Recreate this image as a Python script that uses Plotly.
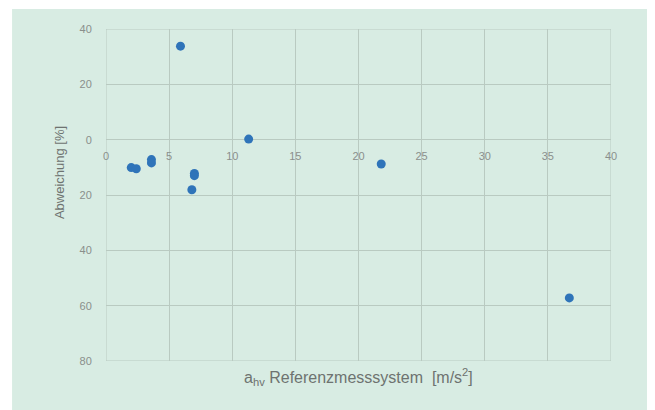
import plotly.graph_objects as go

x_vals = [5.9, 11.3, 2.0, 2.4, 3.6, 3.6, 7.0, 7.0, 6.8, 21.8, 36.7]
y_vals = [33.8, 0.2, -10.1, -10.5, -7.2, -8.4, -12.2, -13.0, -18.1, -8.8, -57.2]

x_ticks = [0, 5, 10, 15, 20, 25, 30, 35, 40]
x_ticktext = ["0", "5", "10", "15", "20", "25", "30", "35", "40"]
y_ticks = [40, 20, 0, -20, -40, -60, -80]
y_ticktext = ["40", "20", "0", "20", "40", "60", "80"]

bg = "#d8ece3"
grid = "#b9cac1"
tick_col = "#8a8f8c"
title_col = "#6e7370"

fig = go.Figure()
fig.add_trace(go.Scatter(
    x=x_vals, y=y_vals, mode="markers",
    marker=dict(size=9, color="#2f74b9"),
    showlegend=False, cliponaxis=False,
))

fig.update_layout(
    width=647, height=402,
    margin=dict(l=98, r=44, t=21, b=49),
    paper_bgcolor="white",
    plot_bgcolor=bg,
    font=dict(family="Liberation Sans, Arial, sans-serif", color=tick_col, size=11),
    shapes=[dict(type="rect", xref="paper", yref="paper",
                 x0=-0.186, x1=1.1, y0=-0.16, y1=1.06,
                 fillcolor=bg, line=dict(width=0), layer="below")],
    xaxis=dict(
        range=[0, 40], tickvals=x_ticks, ticktext=x_ticktext,
        showgrid=True, gridcolor=grid, gridwidth=1,
        zeroline=False, showline=False,
        anchor="free", position=80 / 120,
        ticks="outside", ticklen=6, tickcolor="rgba(0,0,0,0)",
        tickfont=dict(size=11, color=tick_col),
        title=None,
    ),
    yaxis=dict(
        range=[-80, 40], tickvals=y_ticks, ticktext=y_ticktext,
        showgrid=True, gridcolor=grid, gridwidth=1.3,
        zeroline=False, showline=False,
        ticks="outside", ticklen=11, tickcolor="rgba(0,0,0,0)",
        tickfont=dict(size=11, color=tick_col),
        title=None,
    ),
    annotations=[
        dict(xref="paper", yref="paper", x=0.5, y=-0.048, xanchor="center", yanchor="middle",
             text="a<sub>hv</sub> Referenzmesssystem &nbsp;[m/s<sup>2</sup>]",
             showarrow=False, font=dict(size=16, color=title_col)),
        dict(xref="paper", yref="paper", x=-0.093, y=0.566, xanchor="center", yanchor="middle",
             text="Abweichung [%]", textangle=-90,
             showarrow=False, font=dict(size=13, color=title_col)),
    ],
)

fig.add_shape(type="rect", xref="x", yref="y", x0=0, x1=40, y0=-80, y1=40,
              line=dict(color=grid, width=1), layer="below")

fig.write_html("out.html")
